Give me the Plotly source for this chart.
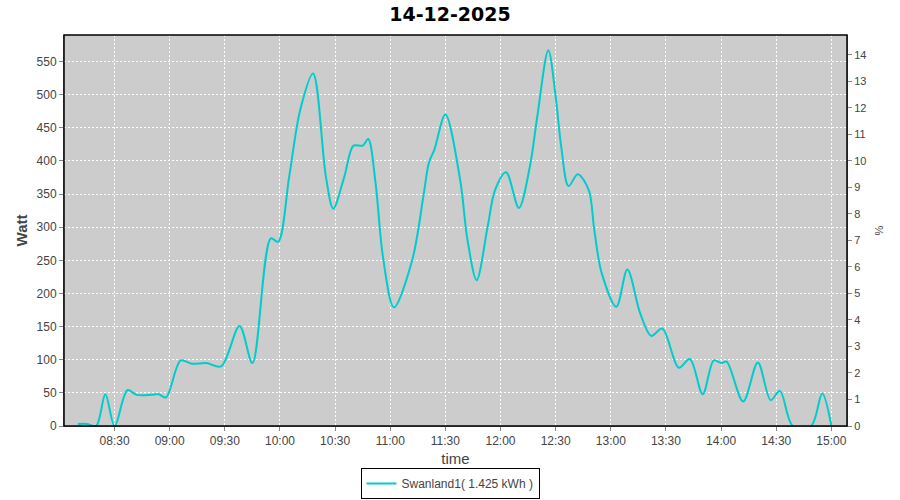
import plotly.graph_objects as go

# Data (time of day, watts)
times = ["08:10", "08:15", "08:20", "08:25", "08:30", "08:37", "08:42", "08:50",
         "08:54", "08:58", "09:06", "09:12", "09:20", "09:28", "09:38", "09:45",
         "09:55", "09:59", "10:05", "10:11", "10:18", "10:25", "10:29", "10:35",
         "10:40", "10:45", "10:48", "10:52", "10:56", "11:02", "11:12", "11:18",
         "11:21", "11:24", "11:30", "11:38", "11:42", "11:47", "11:53", "11:57",
         "12:03", "12:10", "12:16", "12:20", "12:26", "12:30", "12:33", "12:37",
         "12:42", "12:48", "12:51", "12:55", "13:03", "13:09", "13:16", "13:22",
         "13:28", "13:37", "13:43", "13:50", "13:56", "14:00", "14:03", "14:12",
         "14:20", "14:27", "14:32", "14:39", "14:49", "14:55", "15:00"]
watts = [3, 3, 0, 48, 0, 54, 47, 47,
         48, 43, 99, 94, 95, 90, 151, 95,
         283, 278, 376, 477, 532, 376, 328, 376,
         423, 423, 433, 367, 256, 179, 251, 346,
         397, 417, 470, 372, 281, 220, 301, 356,
         383, 329, 392, 467, 567, 497, 422, 362,
         380, 356, 296, 231, 180, 236, 170, 136,
         147, 88, 101, 48, 99, 95, 97, 37,
         96, 39, 53, 0, 0, 49, 0]
date_str = "2025-12-14"
x_ticks = ["08:30", "09:00", "09:30", "10:00", "10:30", "11:00", "11:30",
           "12:00", "12:30", "13:00", "13:30", "14:00", "14:30", "15:00"]
y_ticks = [0, 50, 100, 150, 200, 250, 300, 350, 400, 450, 500, 550]
pct_ticks = list(range(0, 15))
series_name = "Swanland1( 1.425 kWh )"
title_text = "14-12-2025"
peak_power = 4000  # W corresponding to 100 %
y_max = 590

xs = [f"{date_str} {t}:00" for t in times]
tickvals = [f"{date_str} {t}:00" for t in x_ticks]

FONT = "Liberation Sans, Arial, sans-serif"
tick_font = dict(family=FONT, size=12, color="#444444")

fig = go.Figure()
fig.add_trace(go.Scatter(
    x=xs, y=watts, mode="lines", name=series_name,
    line=dict(color="#00CCCC", width=2, shape="spline", smoothing=0.9),
))
fig.add_trace(go.Scatter(x=[None], y=[None], yaxis="y2", showlegend=False,
                         hoverinfo="skip"))

fig.update_layout(
    width=900, height=500,
    margin=dict(l=64, r=53, t=35, b=74),
    paper_bgcolor="white",
    plot_bgcolor="#cccccc",
    title=dict(text=f"<b>{title_text}</b>", x=0.5, xanchor="center", xref="container",
               y=1 - 14 / 500, yanchor="middle",
               font=dict(family="DejaVu Sans, sans-serif", size=19, color="black")),
    xaxis=dict(
        type="date", automargin=False,
        range=[f"{date_str} 08:02:30", f"{date_str} 15:08:30"],
        tickvals=tickvals, ticktext=x_ticks,
        showgrid=True, gridcolor="white", griddash="2px,2px", gridwidth=1,
        ticks="outside", ticklen=4, tickcolor="#888888",
        showline=True, linecolor="#888888", mirror=False,
        tickfont=tick_font,
        title=dict(text="time", standoff=6,
                   font=dict(family=FONT, size=15, color="#444444")),
        zeroline=False,
    ),
    yaxis=dict(
        range=[0, y_max], automargin=False,
        tickvals=y_ticks,
        showgrid=True, gridcolor="white", griddash="2px,2px", gridwidth=1,
        ticks="outside", ticklen=4, tickcolor="#888888",
        showline=True, linecolor="#888888",
        tickfont=tick_font,
        title=dict(text="<b>Watt</b>", standoff=5,
                   font=dict(family=FONT, size=15, color="#444444")),
        zeroline=False,
    ),
    yaxis2=dict(
        overlaying="y", side="right", automargin=False,
        range=[0, y_max / peak_power * 100],
        tickvals=pct_ticks,
        showgrid=False,
        ticks="outside", ticklen=4, tickcolor="#888888",
        showline=True, linecolor="#888888",
        tickfont=dict(family=FONT, size=11, color="#444444"),
        title=dict(text="%", standoff=9,
                   font=dict(family=FONT, size=11, color="#444444")),
        zeroline=False,
    ),
    showlegend=True,
    legend=dict(
        x=0.5, xanchor="center", xref="container",
        y=(500 - 468) / 500, yanchor="top", yref="container",
        orientation="h", bgcolor="white", bordercolor="black", borderwidth=1,
        font=dict(family=FONT, size=12, color="#444444"),
        itemwidth=30, tracegroupgap=0,
    ),
    shapes=[dict(type="rect", xref="paper", yref="paper", x0=0, y0=0, x1=1, y1=1,
                 line=dict(color="black", width=1.5), layer="above")],
)

fig.write_html("out.html", config={"displayModeBar": False},
               post_script="document.body.style.margin='0';")
